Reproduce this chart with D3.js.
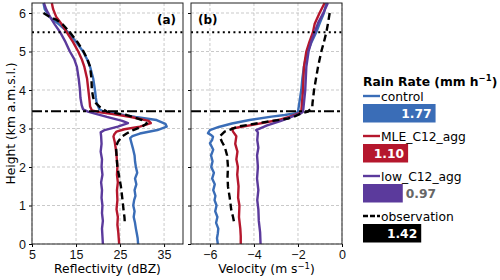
<!DOCTYPE html>
<html>
<head>
<meta charset="utf-8">
<script src="https://cdn.jsdelivr.net/npm/d3@7"></script>
<style>
  body { margin: 0; background: #fff; }
  svg { font-family: "DejaVu Sans", sans-serif; }
</style>
</head>
<body>
<svg width="500" height="280"></svg>
<script>
// profiles as [height km, value]
var controlRefl = [[6.26,7.6],[6.1,7.9],[5.9,9.0],[5.7,11.2],[5.5,13.2],[5.25,15.0],[5.0,16.6],[4.8,17.5],[4.6,18.2],[4.3,18.9],[4.0,19.3],[3.8,19.5],[3.66,19.7],[3.5,20.3],[3.44,21.2],[3.4,23.4],[3.3,28.5],[3.22,33.3],[3.12,35.3],[3.05,35.6],[2.96,33.5],[2.87,29.5],[2.8,27.8],[2.75,27.3],[2.62,27.6],[2.45,28.0],[2.3,28.3],[2.15,28.4],[2.0,28.6],[1.85,28.9],[1.7,28.4],[1.55,28.7],[1.4,28.3],[1.25,28.5],[1.14,28.2],[1.0,28.0],[0.85,28.3],[0.7,28.1],[0.55,28.4],[0.4,28.6],[0.28,28.8],[0.15,29.0],[0,29.1]];
var mleRefl = [[6.26,9.5],[6.1,9.8],[5.9,10.5],[5.7,11.8],[5.5,12.9],[5.25,14.3],[5.0,15.5],[4.8,16.3],[4.6,16.9],[4.3,17.5],[4.0,17.8],[3.8,18.0],[3.57,18.2],[3.47,18.6],[3.42,20.5],[3.38,23.0],[3.3,27.5],[3.2,31.5],[3.14,32.0],[3.05,29.5],[2.98,26.0],[2.92,24.2],[2.85,23.7],[2.79,23.5],[2.65,23.8],[2.5,24.0],[2.3,24.2],[2.0,24.4],[1.8,24.3],[1.6,24.5],[1.4,24.3],[1.14,24.4],[0.9,24.2],[0.7,24.5],[0.5,24.4],[0.3,24.6],[0.15,24.7],[0,24.8]];
var lowRefl = [[6.26,7.7],[6.1,8.2],[5.9,9.1],[5.7,10.2],[5.5,11.4],[5.25,12.6],[5.0,13.6],[4.8,14.6],[4.6,15.2],[4.3,15.6],[4.0,15.9],[3.8,16.0],[3.6,16.3],[3.5,16.6],[3.44,17.7],[3.4,18.9],[3.3,22.0],[3.2,25.5],[3.14,26.8],[3.05,24.5],[2.96,21.5],[2.9,20.6],[2.8,20.7],[2.6,20.8],[2.4,20.6],[2.2,20.9],[2.0,20.8],[1.8,21.0],[1.6,20.7],[1.4,20.9],[1.2,20.8],[1.0,21.0],[0.8,20.9],[0.6,21.1],[0.4,20.9],[0.2,21.0],[0,21.1]];
var obsRefl = [[6.0,7.6],[5.9,9.0],[5.82,10.6],[5.7,12.0],[5.5,13.6],[5.25,15.3],[5.0,16.7],[4.8,17.6],[4.6,18.2],[4.3,18.5],[4.0,18.6],[3.8,18.9],[3.66,19.5],[3.55,20.5],[3.44,22.0],[3.35,26.5],[3.22,30.0],[3.13,31.1],[3.05,30.0],[2.96,28.0],[2.87,26.5],[2.79,25.4],[2.65,24.5],[2.53,24.1],[2.3,24.2],[2.0,24.4],[1.75,24.8],[1.49,25.2],[1.2,25.5],[0.88,25.8],[0.7,26.0],[0.5,26.1]];

var controlVel = [[6.26,-0.71],[6.0,-0.82],[5.75,-1.0],[5.5,-1.17],[5.25,-1.38],[5.0,-1.55],[4.8,-1.66],[4.6,-1.73],[4.3,-1.8],[4.0,-1.85],[3.7,-1.93],[3.44,-2.0],[3.4,-2.08],[3.35,-2.6],[3.31,-3.2],[3.22,-4.2],[3.13,-5.0],[3.04,-5.6],[2.96,-6.0],[2.88,-6.09],[2.83,-5.95],[2.79,-5.86],[2.7,-5.9],[2.62,-6.0],[2.45,-5.85],[2.3,-5.95],[2.15,-5.88],[2.0,-5.94],[1.85,-5.82],[1.7,-5.9],[1.55,-5.78],[1.4,-5.85],[1.25,-5.75],[1.14,-5.79],[1.0,-5.7],[0.85,-5.76],[0.7,-5.66],[0.55,-5.72],[0.4,-5.62],[0.28,-5.64],[0.15,-5.68],[0,-5.64]];
var mleVel = [[6.26,-0.79],[6.0,-1.02],[5.72,-1.24],[5.5,-1.32],[5.25,-1.48],[5.0,-1.62],[4.6,-1.73],[4.0,-1.77],[3.44,-1.85],[3.4,-1.92],[3.3,-2.4],[3.22,-2.9],[3.1,-4.0],[3.0,-5.0],[2.92,-4.95],[2.8,-4.8],[2.6,-4.85],[2.4,-4.75],[2.2,-4.8],[2.0,-4.73],[1.8,-4.76],[1.5,-4.7],[1.2,-4.72],[1.0,-4.66],[0.7,-4.68],[0.4,-4.62],[0.2,-4.6],[0,-4.6]];
var lowVel = [[6.26,-0.64],[6.0,-0.85],[5.75,-1.08],[5.5,-1.24],[5.25,-1.4],[5.0,-1.52],[4.6,-1.62],[4.0,-1.67],[3.44,-1.77],[3.4,-1.85],[3.3,-2.3],[3.2,-2.77],[3.08,-3.4],[2.96,-3.9],[2.9,-3.82],[2.7,-3.85],[2.5,-3.8],[2.3,-3.86],[2.0,-3.82],[1.7,-3.86],[1.4,-3.8],[1.14,-3.85],[0.9,-3.8],[0.6,-3.78],[0.3,-3.72],[0,-3.7]];
var obsVel = [[6.0,-0.56],[5.75,-0.63],[5.5,-0.71],[5.25,-0.82],[5.0,-0.94],[4.6,-1.09],[4.0,-1.27],[3.8,-1.31],[3.66,-1.34],[3.55,-1.35],[3.44,-1.55],[3.38,-1.9],[3.3,-2.2],[3.26,-2.45],[3.15,-3.7],[3.05,-4.73],[2.92,-5.33],[2.79,-5.56],[2.65,-5.45],[2.53,-5.33],[2.3,-5.22],[2.0,-5.18],[1.75,-5.2],[1.49,-5.18],[1.2,-5.1],[0.88,-5.03],[0.7,-4.95],[0.5,-4.88]];

var seriesNames = ['control', 'MLE_C12_agg', 'low_C12_agg', 'observation'];
var seriesColors = ['#3a6db7', '#b5172d', '#5b3a9c', '#000000'];
var rainRates = [1.77, 1.10, 0.97, 1.42];
var reflTicks = [5, 15, 25, 35];
var velTicks = [-6, -4, -2, 0];
var heightTicks = [0, 1, 2, 3, 4, 5, 6];
var meltTop = 5.5;
var meltBase = 3.45;

var svg = d3.select('svg');
var plotTop = 3, plotBottom = 244;

var yScale = d3.scaleLinear().domain([0, 6.26]).range([plotBottom, plotTop]);
var xRefl = d3.scaleLinear().domain([5, 39.3]).range([32, 183]);
var xVel = d3.scaleLinear().domain([-6.86, 0]).range([191, 342]);

function drawPanel(xScale, ticks, profiles, label, xTitle, showY) {
  var x0 = xScale.range()[0], x1 = xScale.range()[1];
  var g = svg.append('g');

  // grid
  g.selectAll('.vg').data(ticks).enter().append('line')
    .attr('x1', d => xScale(d)).attr('x2', d => xScale(d))
    .attr('y1', plotTop).attr('y2', plotBottom)
    .attr('stroke', '#bbb').attr('stroke-width', 0.8).attr('stroke-dasharray', '3,2');
  g.selectAll('.hg').data(heightTicks).enter().append('line')
    .attr('x1', x0).attr('x2', x1)
    .attr('y1', d => yScale(d)).attr('y2', d => yScale(d))
    .attr('stroke', '#bbb').attr('stroke-width', 0.8).attr('stroke-dasharray', '3,2');

  var line = d3.line().x(d => xScale(d[1])).y(d => yScale(d[0]));
  profiles.forEach((p, i) => {
    g.append('path').datum(p)
      .attr('d', line)
      .attr('fill', 'none')
      .attr('stroke', seriesColors[i])
      .attr('stroke-width', 2.4)
      .attr('stroke-linejoin', 'round')
      .attr('stroke-dasharray', i === 3 ? '7,4' : null);
  });

  // melting layer lines
  g.append('line').attr('x1', x0).attr('x2', x1)
    .attr('y1', yScale(meltTop)).attr('y2', yScale(meltTop))
    .attr('stroke', '#000').attr('stroke-width', 2).attr('stroke-dasharray', '2,3.3');
  g.append('line').attr('x1', x0).attr('x2', x1)
    .attr('y1', yScale(meltBase)).attr('y2', yScale(meltBase))
    .attr('stroke', '#000').attr('stroke-width', 2).attr('stroke-dasharray', '10,3,3,3');

  var xAxis = d3.axisBottom(xScale).tickValues(ticks).tickSize(3).tickSizeOuter(0)
    .tickFormat(d => d < 0 ? '\u2212' + Math.abs(d) : d);
  var ax = g.append('g').attr('transform', `translate(0,${plotBottom})`).call(xAxis);
  ax.select('.domain').remove();
  ax.selectAll('text').attr('font-size', 12.5).attr('fill', '#111');

  var yAxis = d3.axisLeft(yScale).tickValues(heightTicks).tickSize(3).tickSizeOuter(0)
    .tickFormat(showY ? d => d : '');
  var ay = g.append('g').attr('transform', `translate(${x0},0)`).call(yAxis);
  ay.select('.domain').remove();
  ay.selectAll('text').attr('font-size', 12.5).attr('fill', '#111');

  g.append('rect').attr('x', x0).attr('y', plotTop)
    .attr('width', x1 - x0).attr('height', plotBottom - plotTop)
    .attr('fill', 'none').attr('stroke', '#222').attr('stroke-width', 1);

  g.append('text')
    .attr('x', showY ? x1 - 7 : x0 + 7).attr('y', 24)
    .attr('text-anchor', showY ? 'end' : 'start')
    .attr('font-size', 12).attr('font-weight', 'bold')
    .text(label);

  g.append('text')
    .attr('x', (x0 + x1) / 2).attr('y', 273)
    .attr('text-anchor', 'middle').attr('font-size', 12.3)
    .html(xTitle);
}

drawPanel(xRefl, reflTicks, [controlRefl, mleRefl, lowRefl, obsRefl], '(a)', 'Reflectivity (dBZ)', true);
drawPanel(xVel, velTicks, [controlVel, mleVel, lowVel, obsVel], '(b)',
  'Velocity (m s<tspan dy="-4.5" font-size="8.5">\u22121</tspan><tspan dy="4.5">)</tspan>', false);

svg.append('text')
  .attr('transform', 'rotate(-90)')
  .attr('x', -(plotTop + plotBottom) / 2).attr('y', 15)
  .attr('text-anchor', 'middle').attr('font-size', 12.3)
  .text('Height (km a.m.s.l.)');

// legend with rain rate bars
var lx = 363;
var barScale = d3.scaleLinear().domain([0, 1]).range([0, 41]);
var leg = svg.append('g');
leg.append('text').attr('x', lx).attr('y', 86)
  .attr('font-size', 12.3).attr('font-weight', 'bold')
  .html('Rain Rate (mm h<tspan dy="-5" font-size="8.5">\u22121</tspan><tspan dy="5">)</tspan>');

seriesNames.forEach((name, i) => {
  var yy = 96 + i * 40;
  leg.append('line').attr('x1', lx).attr('x2', lx + 17)
    .attr('y1', yy).attr('y2', yy)
    .attr('stroke', seriesColors[i]).attr('stroke-width', 2.4)
    .attr('stroke-dasharray', i === 3 ? '5,2' : null);
  leg.append('text').attr('x', lx + 18).attr('y', yy + 4.5)
    .attr('font-size', 12.3).text(name);
  var w = barScale(rainRates[i]);
  leg.append('rect').attr('x', lx).attr('y', yy + 8)
    .attr('width', w).attr('height', 18.5).attr('fill', seriesColors[i]);
  var inside = w > 42;
  leg.append('text')
    .attr('x', inside ? lx + w - 4 : lx + w + 3).attr('y', yy + 22)
    .attr('text-anchor', inside ? 'end' : 'start')
    .attr('font-size', 12.3).attr('font-weight', 'bold')
    .attr('fill', inside ? '#fff' : '#666')
    .text(rainRates[i].toFixed(2));
});
</script>
</body>
</html>
